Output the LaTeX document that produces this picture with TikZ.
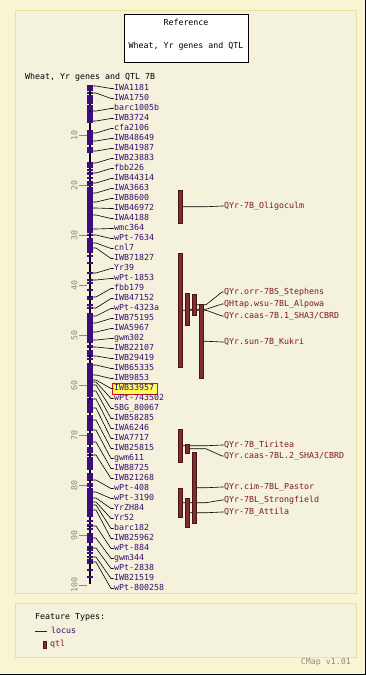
\documentclass[tikz,border=0pt]{standalone}
\usepackage{fontspec}
\setmonofont{DejaVu Sans Mono}
\definecolor{outerbg}{HTML}{F9F5D3}
\definecolor{panelbg}{HTML}{F4F1DC}
\definecolor{panelbd}{HTML}{E9E39B}
\definecolor{chrom}{HTML}{3D0C80}
\definecolor{loctext}{HTML}{3A0A70}
\definecolor{qtlfill}{HTML}{7E2E2E}
\definecolor{qtlbd}{HTML}{4A1414}
\definecolor{qtltext}{HTML}{7A1C1C}
\definecolor{gridgray}{HTML}{8A8A80}
\definecolor{hlfill}{HTML}{FFFF55}
\definecolor{hlbd}{HTML}{E01010}
\begin{document}
\begin{tikzpicture}[x=1pt,y=-1pt,
  txt/.style={font=\ttfamily\fontsize{8.3}{10}\selectfont, inner sep=0pt, anchor=west, text height=6pt, text depth=1.5pt},
  loclab/.style={txt, text=loctext},
  qtllab/.style={txt, text=qtltext},
  conn/.style={black, line width=0.6pt},
  qtlbar/.style={fill=qtlfill, draw=qtlbd, line width=0.5pt, inner sep=0pt, anchor=north west},
  panel/.style={draw=panelbd, fill=panelbg, line width=1pt}]
\useasboundingbox (0,0) rectangle (366,675);
\fill[outerbg] (0,0) rectangle (366,675);
\draw[black, line width=1pt] (365.5,0) -- (365.5,674.5) -- (0,674.5);
\draw[panel] (15,10) rectangle (356,593);
\draw[panel] (15,603) rectangle (356,657);
% title box
\node[draw=black, fill=white, line width=0.8pt, minimum width=124pt, minimum height=48pt, inner sep=0pt] (titlebox) at (186,38) {};
\node[txt, anchor=center, text=black] (t1) at (186,23) {Reference};
\node[txt, anchor=center, text=black] (t2) at (186,46) {Wheat, Yr genes and QTL};
\node[txt, text=black] (maptitle) at (25,77.5) {Wheat, Yr genes and QTL 7B};
% scale
\foreach \v in {10,20,...,100} {
  \draw[gridgray, line width=0.6pt] (79,{85+5*\v}) -- (87,{85+5*\v});
  \node[txt, text=gridgray, rotate=90, anchor=center] (tk\v) at (75,{85+5*\v}) {\v};
}
% highlight
\draw[hlbd, fill=hlfill, line width=0.7pt] (112,383) rectangle (157.5,394.5);
% loci
\foreach \i/\fy/\lab in {0/86/IWA1181, 1/93/IWA1750, 2/111/barc1005b, 3/121/IWB3724, 4/133/cfa2106,
  5/141/IWB48649, 6/151/IWB41987, 7/163/IWB23883, 8/173/fbb226, 9/183/IWB44314, 10/193/IWA3663,
  11/202/IWB8600, 12/208/IWB46972, 13/215/IWA4188, 14/229/wmc364, 15/235/wPt-7634, 16/243/cnl7,
  17/248/IWB71827, 18/273/Yr39, 19/280/wPt-1853, 20/297/fbb179, 21/308/IWB47152, 22/316/wPt-4323a,
  23/323/IWB75195, 24/332/IWA5967, 25/340/gwm302, 26/347/IWB22107, 27/356/IWB29419, 28/365/IWB65335,
  29/375/IWB9853, 30/380/IWB33957, 31/382/wPt-743502, 32/385/SBG\_80067, 33/391/IWB58285,
  34/399/IWA6246, 35/408/IWA7717, 36/420/IWB25815, 37/430/gwm611, 38/442/IWB8725, 39/455/IWB21268,
  40/480/wPt-408, 41/492/wPt-3190, 42/498/YrZH84, 43/502/Yr52, 44/505/barc182, 45/510/IWB25962,
  46/526/wPt-884, 47/538/gwm344, 48/548/wPt-2838, 49/557/IWB21519, 50/562/wPt-800258} {
  \coordinate (s\i) at (93,\fy);
  \node[loclab] (L\i) at (114,{88.5+10*\i}) {\lab};
  \draw[conn] (s\i) -- ++(3,0) -- ([xshift=-3pt]L\i.west) -- ([xshift=-0.5pt]L\i.west);
  \fill[chrom] (87,{\fy-0.8}) rectangle (93,{\fy+0.8});
}
% chromosome
\draw[black, line width=2pt] (90,86) -- (90,584);
\foreach \a/\b in {86/91, 95/100, 105/110, 112/123, 130/145, 147/153, 162/168, 187/233, 238/253,
  272/274, 297/300, 313/343, 350/355, 363/397, 400/413, 420/430, 433/445, 447/453, 457/470,
  473/480, 483/487, 488/517, 533/543}
  \fill[chrom] (87,\a) rectangle (93,\b);
\foreach \y in {101,103,170,174,178,182,185,256,263,280,283,290,305,308,346,359,416,418,
  521,525,529,547,550,553,557,560,563,570,577}
  \fill[chrom] (87,{\y-0.6}) rectangle (93,{\y+0.6});
% QTL labels
\coordinate (kx) at (206,0);
\node[qtllab] (Q1) at (224,206) {QYr-7B\_Oligoculm};
\node[qtllab] (Q4) at (224,292) {QYr.orr-7BS\_Stephens};
\node[qtllab] (Q3) at (224,304) {QHtap.wsu-7BL\_Alpowa};
\node[qtllab] (Q2) at (224,316) {QYr.caas-7B.1\_SHA3/CBRD};
\node[qtllab] (Q5) at (224,342) {QYr.sun-7B\_Kukri};
\node[qtllab] (Q6) at (224,445) {QYr-7B\_Tiritea};
\node[qtllab] (Q7) at (224,456) {QYr.caas-7BL.2\_SHA3/CBRD};
\node[qtllab] (Q8) at (224,487) {QYr.cim-7BL\_Pastor};
\node[qtllab] (Q9) at (224,500) {QYr-7BL\_Strongfield};
\node[qtllab] (Q10) at (224,512) {QYr-7B\_Attila};
% QTL bars
\path (178,190) coordinate (a1) (178,253) coordinate (a2) (185,293) coordinate (a3)
      (192,294) coordinate (a4) (199,304) coordinate (a5) (178,429) coordinate (a6)
      (185,444) coordinate (a7) (192,452) coordinate (a8) (178,488) coordinate (a9)
      (185,498) coordinate (a10);
\foreach \k/\h in {1/33, 2/114, 3/32, 4/21, 5/74, 6/33, 7/9, 8/71, 9/29, 10/29}
  \path (a\k) node[qtlbar, minimum width=4pt, minimum height=\h pt, fill=none, draw=none] (q\k) {};
\foreach \k in {1,...,10}
  \draw[conn] (q\k.east) -- (q\k.east -| kx) -- ([xshift=-2pt]Q\k.west) -- ([xshift=-0.5pt]Q\k.west);
\foreach \k/\h in {1/33, 2/114, 3/32, 4/21, 5/74, 6/33, 7/9, 8/71, 9/29, 10/29}
  \path (a\k) node[qtlbar, minimum width=4pt, minimum height=\h pt] (qb\k) {};
% legend
\node[txt, text=black] (ft) at (35,617) {Feature Types:};
\coordinate (lg0) at (35,631.5);
\node[loclab] (lg1) at (51,631.5) {locus};
\draw[chrom, line width=0.8pt] (lg0) -- ([xshift=-4pt]lg1.west);
\node[qtlbar, minimum width=3pt, minimum height=7pt] (lgq) at (42.5,640.5) {};
\node[qtllab] (lg2) at (50,644) {qtl};
\node[txt, text=gridgray, anchor=east] (ver) at (351,662) {CMap v1.01};
\end{tikzpicture}
\end{document}
